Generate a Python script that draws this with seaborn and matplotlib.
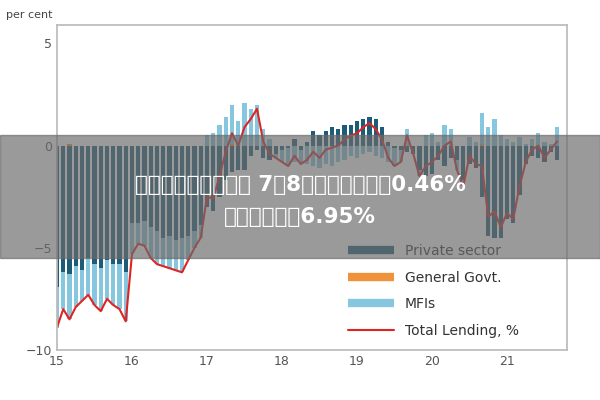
import numpy as np
import pandas as pd
import matplotlib
matplotlib.use("Agg")
import matplotlib.pyplot as plt
import seaborn as sns
from matplotlib import font_manager as fm
from matplotlib.lines import Line2D
from matplotlib.patches import Rectangle

total = [-8.9,-8.0,-8.5,-7.9,-7.6,-7.3,-7.8,-8.1,-7.5,-7.8,-8.0,-8.6,
         -5.3,-4.8,-4.9,-5.5,-5.8,-5.9,-6.0,-6.1,-6.2,-5.6,-5.0,-4.5,
         -2.5,-2.6,-1.5,-0.3,0.6,0.0,0.9,1.3,1.8,0.2,-0.4,-0.6,
         -0.8,-1.0,-0.5,-0.9,-0.7,-0.3,-0.6,-0.2,-0.1,0.0,0.3,0.5,
         0.6,0.9,1.1,0.8,0.3,-0.6,-1.0,-0.8,0.5,-0.4,-1.5,-1.0,
         -0.8,-0.5,0.0,0.2,-1.2,-2.0,-0.5,-0.9,-1.0,-3.5,-3.2,-4.0,
         -3.3,-3.6,-2.0,-0.8,-0.2,0.0,-0.6,-0.2,0.2]
mfis = [-2.0,-1.8,-2.2,-2.0,-1.5,-1.8,-2.0,-2.1,-1.9,-2.0,-2.2,-2.4,
        -1.5,-1.0,-1.2,-1.5,-1.6,-1.4,-1.6,-1.5,-1.7,-1.2,-0.8,-0.6,
        0.5,0.6,1.0,1.4,1.9,1.2,2.1,1.8,2.0,0.8,0.3,-0.2,
        -0.6,-0.9,-0.8,-0.7,-0.9,-1.0,-1.1,-0.9,-1.0,-0.8,-0.7,-0.5,
        -0.6,-0.4,-0.3,-0.5,-0.6,-0.8,-0.9,-0.6,0.8,0.0,-0.3,0.5,
        0.6,0.2,1.0,0.8,-0.5,-0.3,0.4,0.2,1.5,0.9,1.3,0.5,
        0.3,0.2,0.4,0.1,0.3,0.6,0.2,0.1,0.9]
private = [-6.9,-6.2,-6.3,-5.9,-6.1,-5.5,-5.8,-6.0,-5.6,-5.8,-5.8,-6.2,
           -3.8,-3.8,-3.7,-4.0,-4.2,-4.5,-4.4,-4.6,-4.5,-4.4,-4.2,-3.9,
           -3.0,-3.2,-2.5,-1.7,-1.3,-1.2,-1.2,-0.5,-0.2,-0.6,-0.7,-0.4,
           -0.2,-0.1,0.3,-0.2,0.2,0.7,0.5,0.7,0.9,0.8,1.0,1.0,
           1.2,1.3,1.4,1.3,0.9,0.2,-0.1,-0.2,-0.3,-0.4,-1.2,-1.5,
           -1.4,-0.7,-1.0,-0.6,-0.7,-1.7,-0.9,-1.1,-2.5,-4.4,-4.5,-4.5,
           -3.6,-3.8,-2.4,-0.9,-0.5,-0.6,-0.8,-0.3,-0.7]
govt = [0.0,0.0,0.1,0.0,0.0,0.0,0.0,0.0,0.0,0.0,0.0,0.0,
        0.0,0.0,0.0,0.0,0.0,0.0,0.0,0.0,0.0,0.0,0.0,0.0,
        0.0,0.0,0.0,0.0,0.1,0.0,0.0,0.0,0.0,0.0,0.0,0.0,
        0.0,0.0,0.0,0.0,0.0,0.0,0.0,0.0,0.0,0.0,0.0,0.0,
        0.0,0.0,0.0,0.0,0.0,0.0,0.0,0.0,0.0,0.0,0.0,0.0,
        0.0,0.0,0.0,0.0,0.0,0.0,0.0,0.0,0.1,0.0,0.0,0.0,
        0.0,0.0,0.0,0.0,0.0,0.0,0.0,0.0,0.0]
year_ticks = [15, 16, 17, 18, 19, 20, 21]
x = [15 + i / 12 for i in range(len(total))]

sns.set_theme(style="white")
fig = plt.figure(figsize=(6, 4), dpi=100)
ax = fig.add_axes([0.095, 0.125, 0.85, 0.8125])

c_priv, c_gov, c_mfi, c_red = "#1d5c78", "#f0923a", "#86c6de", "#e02424"
w = 1 / 12 * 0.7
pos = np.zeros(len(x)); neg = np.zeros(len(x))
for vals, col in [(private, c_priv), (govt, c_gov), (mfis, c_mfi)]:
    v = np.array(vals)
    base = np.where(v >= 0, pos, neg)
    ax.bar(x, v, bottom=base, width=w, color=col, linewidth=0)
    pos = pos + np.where(v >= 0, v, 0)
    neg = neg + np.where(v < 0, v, 0)

df = pd.DataFrame({"x": x, "total": total})
sns.lineplot(data=df, x="x", y="total", ax=ax, color=c_red, linewidth=1.5)

ax.set_xlim(15, 21.8)
ax.set_ylim(-10, 5.9)
ax.set_yticks([5, 0, -5, -10])
ax.set_xticks(year_ticks)
ax.set_xticklabels([str(t) for t in year_ticks])
ax.set_xlabel(""); ax.set_ylabel("")
ax.tick_params(colors="#555555", labelsize=9, length=0)
for s in ax.spines.values():
    s.set_color("#bbbbbb")
fig.text(0.01, 0.955, "per cent", fontsize=8, color="#444444")

handles = [Line2D([], [], color=c_priv, lw=6, solid_capstyle="butt"),
           Line2D([], [], color=c_gov, lw=6, solid_capstyle="butt"),
           Line2D([], [], color=c_mfi, lw=6, solid_capstyle="butt"),
           Line2D([], [], color=c_red, lw=1.5)]
ax.legend(handles, ["Private sector", "General Govt.", "MFIs", "Total Lending, %"],
          loc="lower right", bbox_to_anchor=(0.93, 0.0), frameon=False,
          fontsize=10, handlelength=3.3, labelspacing=0.9, labelcolor="#333333")

fig.patches.append(Rectangle((0, 1 - 258 / 400), 1, 123 / 400, transform=fig.transFigure,
                             color="#6a6a6a", alpha=0.68, zorder=10))

fp = None
for f in fm.fontManager.ttflist:
    if "CJK" in f.name and "SC" in f.name:
        if fp is None or f.weight in ("bold", 700):
            fp = fm.FontProperties(fname=f.fname)
if fp is None:
    fp = fm.FontProperties(family="Noto Sans CJK SC")
fp.set_size(15.5)
fp.set_weight("bold")

fig.text(0.5, 1 - 185 / 400, "股票可以杠杆的平台 7月8日兴森转债上涨0.46%", ha="center", va="center",
         color="white", fontproperties=fp, zorder=11)
fig.text(0.5, 1 - 217 / 400, "，转股溢价率6.95%", ha="center", va="center",
         color="white", fontproperties=fp, zorder=11)

fig.savefig("out.png", dpi=100)
